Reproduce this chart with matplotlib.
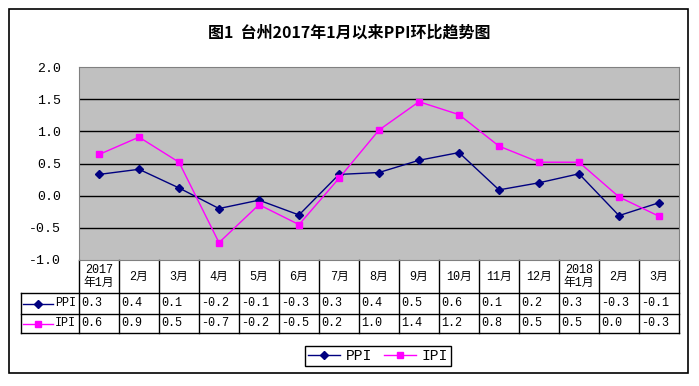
# -*- coding: utf-8 -*-
import matplotlib as mpl
mpl.use('Agg')
import matplotlib.pyplot as plt
import matplotlib.transforms as mtrans
from matplotlib.patches import Rectangle
from matplotlib.lines import Line2D
import numpy as np

plt.rcParams['font.family'] = ['Liberation Mono', 'Noto Sans CJK SC', 'DejaVu Sans']

months = ['2017\n年1月', '2月', '3月', '4月', '5月', '6月', '7月', '8月', '9月',
          '10月', '11月', '12月', '2018\n年1月', '2月', '3月']
ppi = [0.33, 0.41, 0.12, -0.20, -0.07, -0.30, 0.33, 0.36, 0.55, 0.67,
       0.09, 0.20, 0.34, -0.31, -0.11]
ipi = [0.64, 0.91, 0.52, -0.73, -0.14, -0.45, 0.27, 1.02, 1.46, 1.26,
       0.77, 0.52, 0.52, -0.02, -0.32]
ppi_txt = ['0.3', '0.4', '0.1', '-0.2', '-0.1', '-0.3', '0.3', '0.4', '0.5',
           '0.6', '0.1', '0.2', '0.3', '-0.3', '-0.1']
ipi_txt = ['0.6', '0.9', '0.5', '-0.7', '-0.2', '-0.5', '0.2', '1.0', '1.4',
           '1.2', '0.8', '0.5', '0.5', '0.0', '-0.3']
yticks = [-1.0, -0.5, 0.0, 0.5, 1.0, 1.5, 2.0]

W, H = 699, 386
fig = plt.figure(figsize=(W / 100, H / 100), dpi=100)

# chart border
fig.patches.append(Rectangle((9 / W, 1 - 373 / H), 679 / W, 364 / H,
                             transform=fig.transFigure, fill=False,
                             edgecolor='black', linewidth=1.2))

fig.text(349 / W, 1 - 33 / H, '图1  台州2017年1月以来PPI环比趋势图',
         ha='center', va='center', fontsize=11.5, fontweight='bold',
         family=['Noto Sans CJK SC', 'DejaVu Sans'])

ax = fig.add_axes([79 / W, 1 - 260 / H, 600 / W, 193 / H])
ax.set_facecolor('#C0C0C0')
for s in ax.spines.values():
    s.set_color('#808080')
    s.set_linewidth(0.8)

n = len(months)
x = np.arange(n)
ax.set_xlim(-0.5, n - 0.5)
ax.set_ylim(-1.0, 2.0)
ax.set_yticks(yticks)
ax.set_yticklabels(['%.1f' % v for v in yticks], fontsize=9.5)
ax.tick_params(axis='y', length=0, pad=13)
ax.set_xticks([])
for v in yticks[1:-1]:
    ax.axhline(v, color='black', linewidth=1.0, zorder=1)

ax.plot(x, ppi, color='#000080', marker='D', markersize=4, linewidth=1.0,
        label='PPI', zorder=3)
ax.plot(x, ipi, color='#FF00FF', marker='s', markersize=5, linewidth=1.0,
        label='IPI', zorder=3)

# data table below the axis
tr = mtrans.blended_transform_factory(ax.transData, ax.transAxes)
px = 193.0
y_head = -(293 - 260) / px
y_ppi = -(314 - 260) / px
y_ipi = -(333 - 260) / px
x_lab = -0.5 - 58 / 40.0
lk = dict(color='black', linewidth=1.0, transform=tr, clip_on=False)

ax.plot([x_lab, n - 0.5], [y_head, y_head], **lk)
ax.plot([x_lab, n - 0.5], [y_ppi, y_ppi], **lk)
ax.plot([x_lab, n - 0.5], [y_ipi, y_ipi], **lk)
ax.plot([x_lab, x_lab], [y_head, y_ipi], **lk)
for i in range(n + 1):
    ax.plot([i - 0.5, i - 0.5], [0, y_ipi], **lk)

for i in range(n):
    ax.text(i, y_head / 2, months[i], transform=tr, ha='center', va='center',
            fontsize=8.5, linespacing=1.1)
    ax.text(i - 0.44, (y_head + y_ppi) / 2, ppi_txt[i], transform=tr,
            ha='left', va='center', fontsize=8.5)
    ax.text(i - 0.44, (y_ppi + y_ipi) / 2, ipi_txt[i], transform=tr,
            ha='left', va='center', fontsize=8.5)

# legend keys inside the row label cells
for yy0, yy1, col, mk, ms, name in [(y_head, y_ppi, '#000080', 'D', 4, 'PPI'),
                                    (y_ppi, y_ipi, '#FF00FF', 's', 5, 'IPI')]:
    ym = (yy0 + yy1) / 2
    ax.add_line(Line2D([x_lab + 0.05, x_lab + 0.8], [ym, ym], color=col,
                       linewidth=1.0, transform=tr, clip_on=False))
    ax.add_line(Line2D([x_lab + 0.425], [ym], color=col, marker=mk,
                       markersize=ms, transform=tr, clip_on=False))
    ax.text(x_lab + 0.85, ym, name, transform=tr, ha='left', va='center',
            fontsize=8.5)

fig.legend(loc='center', bbox_to_anchor=(378 / W, 1 - 356 / H), ncol=2,
           fontsize=10.5, frameon=True, fancybox=False, edgecolor='black',
           framealpha=1, borderpad=0.2, handlelength=2.2, handletextpad=0.4,
           columnspacing=0.8)

fig.savefig('out.png', dpi=100)
